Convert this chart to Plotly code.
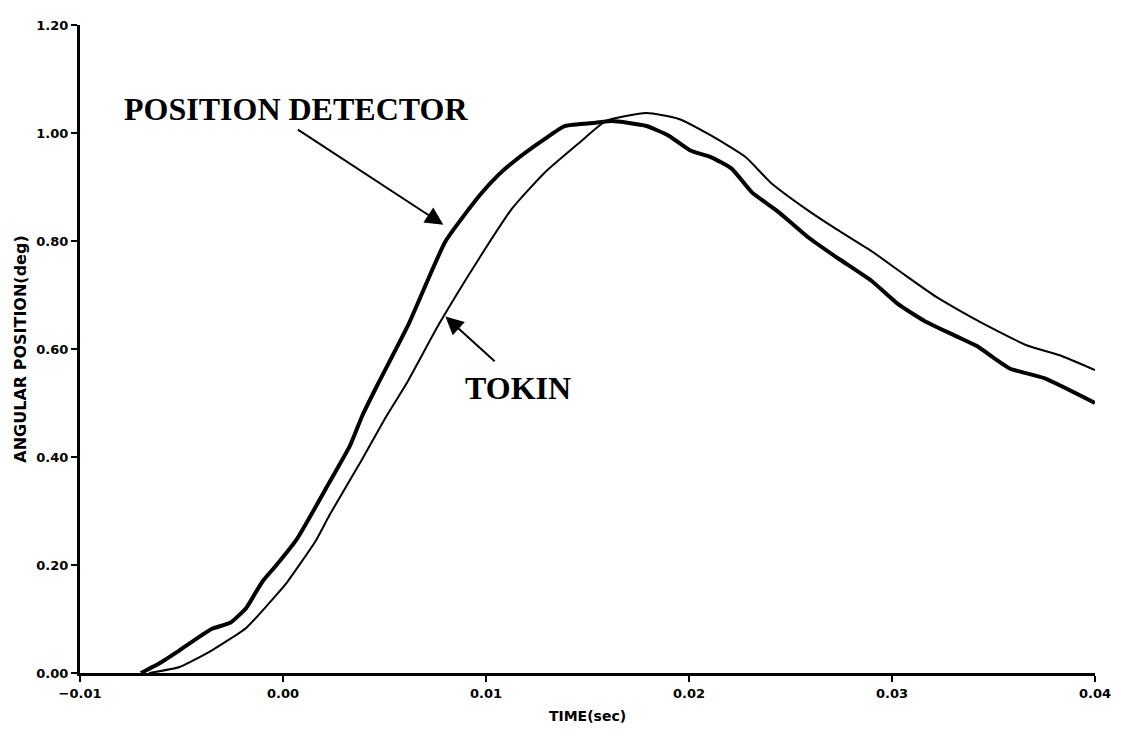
import plotly.graph_objects as go

# Position detector (thick line)
pd_time = [-0.0070, -0.0060, -0.0051, -0.0035, -0.0026, -0.0018, -0.0013, -0.0010, -0.0003,
           0.0007, 0.0023, 0.0033, 0.0039, 0.0047, 0.0062, 0.0080, 0.0097, 0.0106, 0.0113,
           0.0129, 0.0139, 0.0154, 0.0162, 0.0179, 0.0190, 0.0201, 0.0211, 0.0221, 0.0231,
           0.0244, 0.0259, 0.0273, 0.0290, 0.0303, 0.0316, 0.0332, 0.0342, 0.0358, 0.0375, 0.0400]
pd_angle = [0.000, 0.020, 0.042, 0.082, 0.093, 0.121, 0.152, 0.170, 0.201,
            0.249, 0.354, 0.421, 0.476, 0.537, 0.647, 0.799, 0.885, 0.922, 0.945,
            0.989, 1.013, 1.019, 1.022, 1.013, 0.995, 0.967, 0.955, 0.934, 0.890,
            0.854, 0.806, 0.769, 0.726, 0.683, 0.652, 0.623, 0.605, 0.564, 0.546, 0.500]

# Tokin (thin line)
tk_time = [-0.0066, -0.0051, -0.0035, -0.0018, -0.0002, 0.0002, 0.0016, 0.0023, 0.0039,
           0.0051, 0.0061, 0.0077, 0.0097, 0.0113, 0.0129, 0.0146, 0.0159, 0.0179, 0.0195,
           0.0211, 0.0228, 0.0240, 0.0257, 0.0273, 0.0290, 0.0306, 0.0322, 0.0332, 0.0348,
           0.0367, 0.0383, 0.0400]
tk_angle = [0.000, 0.011, 0.042, 0.084, 0.150, 0.168, 0.244, 0.293, 0.396,
            0.476, 0.537, 0.647, 0.770, 0.861, 0.927, 0.982, 1.022, 1.037, 1.026,
            0.995, 0.955, 0.909, 0.861, 0.821, 0.781, 0.738, 0.696, 0.674, 0.641,
            0.606, 0.588, 0.561]

x_ticks = [-0.01, 0.00, 0.01, 0.02, 0.03, 0.04]
y_ticks = [0.00, 0.20, 0.40, 0.60, 0.80, 1.00, 1.20]

fig = go.Figure()
fig.add_trace(go.Scatter(x=tk_time, y=tk_angle, mode="lines", name="TOKIN",
                         line=dict(color="black", width=2, shape="spline", smoothing=0.5)))
fig.add_trace(go.Scatter(x=pd_time, y=pd_angle, mode="lines", name="POSITION DETECTOR",
                         line=dict(color="black", width=4, shape="spline", smoothing=0.5)))

tick_font = dict(family="DejaVu Sans, Arial, sans-serif", size=13, color="black", weight="bold")
xtitle_font = dict(family="DejaVu Sans, Arial, sans-serif", size=14, color="black", weight="bold")
ytitle_font = dict(family="DejaVu Sans, Arial, sans-serif", size=16, color="black", weight="bold")
label_font = dict(family="Liberation Serif, Times New Roman, serif", size=32, color="black", weight="bold")

fig.update_layout(
    width=1113, height=728,
    margin=dict(l=72, r=23, t=10, b=63),
    paper_bgcolor="white", plot_bgcolor="white",
    showlegend=False,
    xaxis=dict(range=[-0.01, 0.04], tickvals=x_ticks, tickformat=".2f",
               showgrid=False, zeroline=False, showline=True, linecolor="black", linewidth=3,
               ticks="outside", ticklen=6, tickwidth=2, tickcolor="black",
               tickfont=tick_font, title=dict(text="TIME(sec)", font=xtitle_font, standoff=12)),
    yaxis=dict(range=[0, 1.2], tickvals=y_ticks, tickformat=".2f",
               showgrid=False, zeroline=False, showline=True, linecolor="black", linewidth=3,
               ticks="outside", ticklen=6, tickwidth=2, tickcolor="black",
               tickfont=tick_font, title=dict(text="ANGULAR POSITION(deg)", font=ytitle_font, standoff=6)),
)

# Labels
fig.add_annotation(x=0.00066, y=1.045, xref="x", yref="y", text="POSITION DETECTOR",
                   showarrow=False, font=label_font)
fig.add_annotation(x=0.0116, y=0.528, xref="x", yref="y", text="TOKIN",
                   showarrow=False, font=label_font)
# Arrows
fig.add_annotation(x=0.0079, y=0.830, ax=0.00066, ay=1.008, xref="x", yref="y",
                   axref="x", ayref="y", text="", showarrow=True,
                   arrowhead=2, arrowsize=1.8, arrowwidth=2, arrowcolor="black")
fig.add_annotation(x=0.0080, y=0.660, ax=0.0105, ay=0.575, xref="x", yref="y",
                   axref="x", ayref="y", text="", showarrow=True,
                   arrowhead=2, arrowsize=1.8, arrowwidth=2, arrowcolor="black")

fig.write_html("out.html")
